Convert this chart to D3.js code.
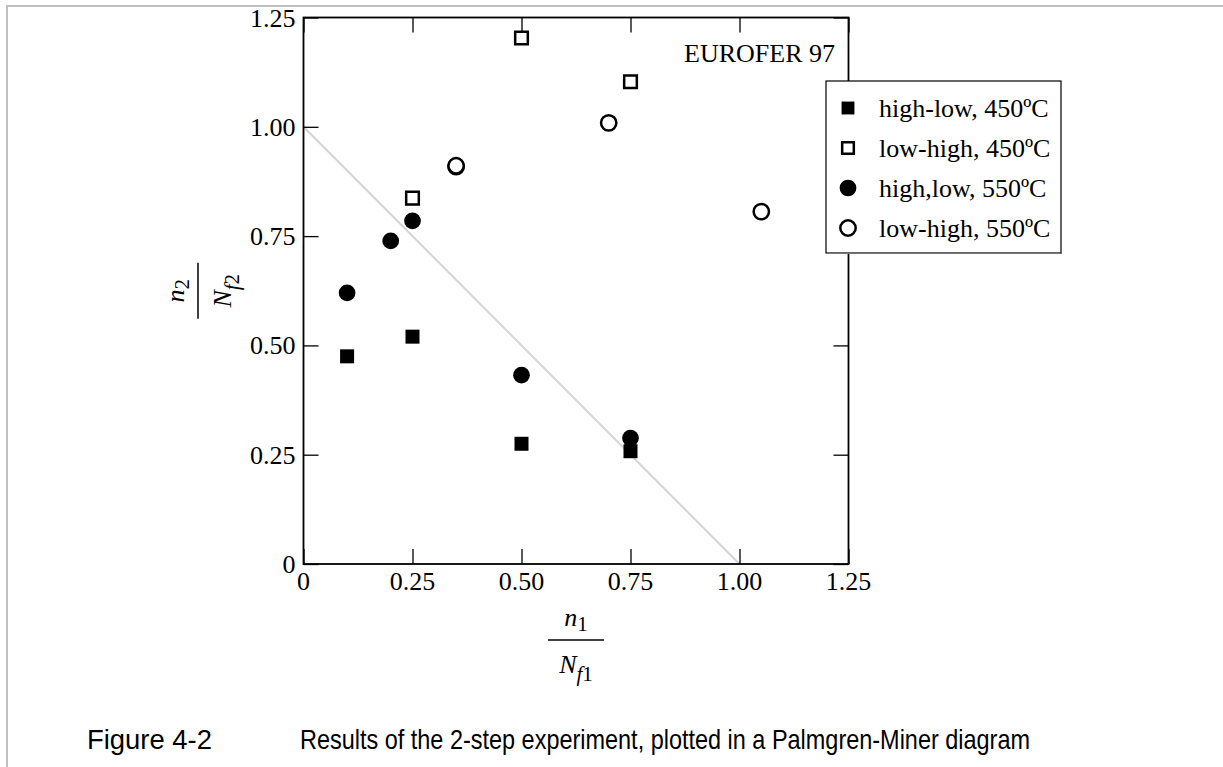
<!DOCTYPE html>
<html>
<head>
<meta charset="utf-8">
<script src="https://cdn.jsdelivr.net/npm/d3@7"></script>
<style>
  html, body { margin: 0; padding: 0; background: #fff; }
  svg { display: block; }
</style>
</head>
<body>
<svg id="chart" width="1223" height="767"></svg>
<script>
// Palmgren-Miner diagram: fraction of life spent in step 1 vs. step 2
const tickValues = [0, 0.25, 0.5, 0.75, 1.0, 1.25];
const tickLabels = ["0", "0.25", "0.50", "0.75", "1.00", "1.25"];

const seriesNames = ["high-low, 450ºC", "low-high, 450ºC", "high,low, 550ºC", "low-high, 550ºC"];
const seriesShapes = ["square", "square", "circle", "circle"];
const seriesFilled = [true, false, true, false];

// n1/Nf1 and n2/Nf2 per series
const highLow450X = [0.10, 0.25, 0.50, 0.75];
const highLow450Y = [0.475, 0.52, 0.275, 0.258];
const lowHigh450X = [0.25, 0.50, 0.75];
const lowHigh450Y = [0.837, 1.203, 1.103];
const highLow550X = [0.10, 0.20, 0.25, 0.50, 0.75];
const highLow550Y = [0.62, 0.739, 0.785, 0.432, 0.288];
const lowHigh550X = [0.35, 0.35, 0.70, 1.05];
const lowHigh550Y = [0.909, 0.911, 1.009, 0.806];

// Miner's rule: n1/Nf1 + n2/Nf2 = 1
const minerX = [0, 1];
const minerY = [1, 0];

const seriesX = [highLow450X, lowHigh450X, highLow550X, lowHigh550X];
const seriesY = [highLow450Y, lowHigh450Y, highLow550Y, lowHigh550Y];

const svg = d3.select("#chart");
const serif = "'Liberation Serif', 'Times New Roman', serif";

// page frame
svg.append("line").attr("x1", 6).attr("x2", 1223).attr("y1", 6).attr("y2", 6)
  .attr("stroke", "#c0c0c0").attr("stroke-width", 2);
svg.append("line").attr("x1", 7).attr("x2", 7).attr("y1", 5).attr("y2", 767)
  .attr("stroke", "#c0c0c0").attr("stroke-width", 2);

const plotL = 303.5, plotR = 848.5, plotT = 17.5, plotB = 564;
const x = d3.scaleLinear().domain([0, 1.25]).range([plotL, plotR]);
const y = d3.scaleLinear().domain([0, 1.25]).range([plotB, plotT]);

// Miner line
svg.append("line")
  .attr("x1", x(minerX[0])).attr("y1", y(minerY[0]))
  .attr("x2", x(minerX[1])).attr("y2", y(minerY[1]))
  .attr("stroke", "#d4d4d4").attr("stroke-width", 2);

// axes with inward ticks on all four sides
const fmt = d => tickLabels[tickValues.indexOf(d)];
const tickLen = 15;
const axB = svg.append("g").attr("transform", `translate(0,${plotB})`)
  .call(d3.axisTop(x).tickValues(tickValues).tickSize(tickLen).tickFormat(""));
const axT = svg.append("g").attr("transform", `translate(0,${plotT})`)
  .call(d3.axisBottom(x).tickValues(tickValues).tickSize(tickLen).tickFormat(""));
const axL = svg.append("g").attr("transform", `translate(${plotL},0)`)
  .call(d3.axisRight(y).tickValues(tickValues).tickSize(tickLen).tickFormat(""));
const axR = svg.append("g").attr("transform", `translate(${plotR},0)`)
  .call(d3.axisLeft(y).tickValues(tickValues).tickSize(tickLen).tickFormat(""));
[axB, axT, axL, axR].forEach(g => {
  g.select(".domain").remove();
  g.selectAll(".tick line").attr("stroke", "#000").attr("stroke-width", 1.3);
});

// frame
svg.append("rect").attr("x", plotL).attr("y", plotT)
  .attr("width", plotR - plotL).attr("height", plotB - plotT)
  .attr("fill", "none").attr("stroke", "#000").attr("stroke-width", 1.8);

// tick labels
svg.append("g").selectAll("text").data(tickValues).join("text")
  .attr("x", d => x(d)).attr("y", plotB + 26)
  .attr("text-anchor", "middle")
  .attr("font-family", serif).attr("font-size", 26)
  .text(fmt);
svg.append("g").selectAll("text").data(tickValues).join("text")
  .attr("x", plotL - 8).attr("y", d => y(d) + 9)
  .attr("text-anchor", "end")
  .attr("font-family", serif).attr("font-size", 26)
  .text(fmt);

// marker drawing
const symbolFor = (shape, filled) => {
  const type = shape === "square" ? d3.symbolSquare : d3.symbolCircle;
  const size = shape === "square" ? (filled ? 196 : 160) : (filled ? 220 : 185);
  return d3.symbol().type(type).size(size)();
};
const styleMarker = (sel, filled) => sel
  .attr("fill", filled ? "#000" : "#fff")
  .attr("stroke", "#000")
  .attr("stroke-width", filled ? 0 : 2.5);

seriesX.forEach((xs, i) => {
  const pts = xs.map((v, j) => [v, seriesY[i][j]]);
  svg.append("g").selectAll("path").data(pts).join("path")
    .attr("transform", d => `translate(${x(d[0])},${y(d[1])})`)
    .attr("d", symbolFor(seriesShapes[i], seriesFilled[i]))
    .call(styleMarker, seriesFilled[i]);
});

// material label
svg.append("text").attr("x", 835).attr("y", 62)
  .attr("text-anchor", "end")
  .attr("font-family", serif).attr("font-size", 26)
  .text("EUROFER 97");

// legend
const lg = svg.append("g");
lg.append("rect").attr("x", 826).attr("y", 81).attr("width", 235).attr("height", 172)
  .attr("fill", "#fff").attr("stroke", "#000").attr("stroke-width", 1.2);
lg.append("line").attr("x1", 826).attr("x2", 1062).attr("y1", 253.5).attr("y2", 253.5)
  .attr("stroke", "#777").attr("stroke-width", 1);
seriesNames.forEach((name, i) => {
  const cy = 108 + i * 40;
  const scale = seriesShapes[i] === "square" ? 0.92 : 1;
  lg.append("path")
    .attr("transform", `translate(848,${cy}) scale(${scale})`)
    .attr("d", symbolFor(seriesShapes[i], seriesFilled[i]))
    .call(styleMarker, seriesFilled[i])
    .attr("stroke-width", seriesFilled[i] ? 0 : 2.5 / scale);
  lg.append("text").attr("x", 879).attr("y", cy + 9)
    .attr("font-family", serif).attr("font-size", 26)
    .text(name);
});

// x axis title: n1 / Nf1
const xc = (plotL + plotR) / 2;
const xt = svg.append("g").attr("font-family", serif).attr("font-size", 26);
const xn = xt.append("text").attr("x", xc).attr("y", 626).attr("text-anchor", "middle");
xn.append("tspan").attr("font-style", "italic").text("n");
xn.append("tspan").attr("dy", 5).attr("font-size", 21).text("1");
xt.append("line").attr("x1", xc - 28).attr("x2", xc + 28).attr("y1", 640).attr("y2", 640)
  .attr("stroke", "#000").attr("stroke-width", 1.5);
const xd = xt.append("text").attr("x", xc).attr("y", 673).attr("text-anchor", "middle");
xd.append("tspan").attr("font-style", "italic").text("N");
xd.append("tspan").attr("dy", 8).attr("font-style", "italic").attr("font-size", 21).text("f");
xd.append("tspan").attr("font-size", 21).text("1");

// y axis title: n2 / Nf2, rotated
const yc = (plotT + plotB) / 2;
const yt = svg.append("g").attr("font-family", serif).attr("font-size", 26)
  .attr("transform", `translate(198,${yc}) rotate(-90)`);
const yn = yt.append("text").attr("x", 0).attr("y", -14).attr("text-anchor", "middle");
yn.append("tspan").attr("font-style", "italic").text("n");
yn.append("tspan").attr("dy", 5).attr("font-size", 21).text("2");
yt.append("line").attr("x1", -28).attr("x2", 28).attr("y1", 0).attr("y2", 0)
  .attr("stroke", "#000").attr("stroke-width", 1.5);
const yd = yt.append("text").attr("x", 0).attr("y", 33).attr("text-anchor", "middle");
yd.append("tspan").attr("font-style", "italic").text("N");
yd.append("tspan").attr("dy", 8).attr("font-style", "italic").attr("font-size", 21).text("f");
yd.append("tspan").attr("font-size", 21).text("2");

// caption
const sans = "'Liberation Sans', Arial, sans-serif";
svg.append("text").attr("x", 87).attr("y", 749)
  .attr("font-family", sans).attr("font-size", 28)
  .attr("textLength", 125).attr("lengthAdjust", "spacingAndGlyphs")
  .text("Figure 4-2");
svg.append("text").attr("x", 300).attr("y", 749)
  .attr("font-family", sans).attr("font-size", 28)
  .attr("textLength", 730).attr("lengthAdjust", "spacingAndGlyphs")
  .text("Results of the 2-step experiment, plotted in a Palmgren-Miner diagram");
</script>
</body>
</html>
